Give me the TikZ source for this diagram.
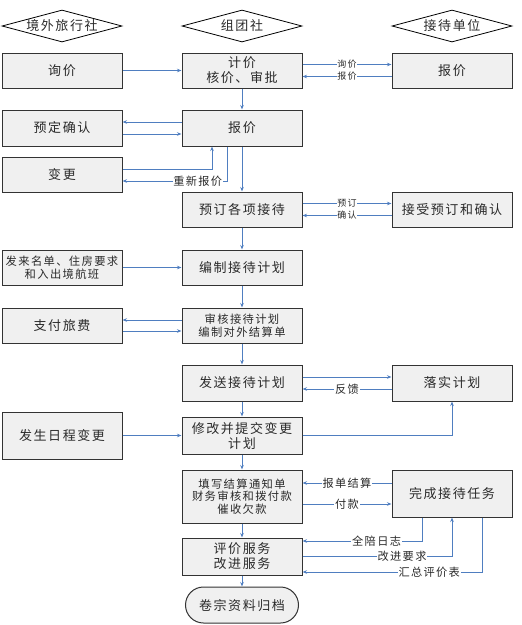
\documentclass[tikz,border=0pt]{standalone}
\usepackage{fontspec}
\newfontfamily\cjk[LetterSpace=12]{Noto Sans CJK SC}
\usetikzlibrary{arrows.meta,shapes.geometric}
\definecolor{boxfill}{HTML}{F0F0F0}
\definecolor{linkblue}{HTML}{4F7EC0}
\definecolor{txt}{HTML}{2A2A2A}
\begin{document}
\begin{tikzpicture}[x=1pt,y=-1pt,
 box/.style={draw=black!80, line width=1pt, fill=boxfill, minimum width=120pt, inner sep=0pt, align=center, text=txt, font=\cjk\fontsize{13}{15}\selectfont},
 small/.style={font=\cjk\fontsize{11.3}{12.8}\selectfont},
 role/.style={diamond, draw=black, line width=0.8pt, fill=white, minimum width=120pt, minimum height=32pt, aspect=3.75, inner sep=0pt, text=txt, font=\cjk\fontsize{13}{15}\selectfont},
 arr/.style={draw=linkblue, line width=0.8pt, -{Stealth[length=4.5pt,width=3.5pt]}},
 lab/.style={fill=white, inner sep=0.8pt, text=txt, font=\cjk\fontsize{11.2}{12}\selectfont},
 slab/.style={lab, font=\cjk\fontsize{9}{10}\selectfont}]
\useasboundingbox (0,0) rectangle (522,625);

\node[role] (r1) at (62,26) {境外旅行社};
\node[role] (r2) at (242,26) {组团社};
\node[role] (r3) at (452,26) {接待单位};

\node[box,minimum height=35pt] (xunjia) at (62,70.5) {询价};
\node[box,minimum height=35pt] (jijia) at (242,70.5) {计价\\核价、审批};
\node[box,minimum height=35pt] (bj2) at (452,70.5) {报价};
\node[box,minimum height=36pt] (yuding) at (62,128) {预定确认};
\node[box,minimum height=36pt] (baojia) at (242,128) {报价};
\node[box,minimum height=35pt] (biangeng) at (62,174.5) {变更};
\node[box,minimum height=35pt] (yuding2) at (242,209.5) {预订各项接待};
\node[box,minimum height=35pt] (jieshou) at (452,209.5) {接受预订和确认};
\node[box,small,minimum height=35pt] (falai) at (62,267.5) {发来名单、住房要求\\和入出境航班};
\node[box,minimum height=35pt] (bianzhi) at (242,267.5) {编制接待计划};
\node[box,minimum height=35pt] (zhifu) at (62,325.5) {支付旅费};
\node[box,small,minimum height=35pt] (shenhe) at (242,325.5) {审核接待计划\\编制对外结算单};
\node[box,minimum height=36pt] (fasong) at (242,383) {发送接待计划};
\node[box,minimum height=36pt] (luoshi) at (452,383) {落实计划};
\node[box,minimum height=47pt] (fasheng) at (62,435.5) {发生日程变更};
\node[box,minimum height=37pt] (xiugai) at (242,435.5) {修改并提交变更\\计划};
\node[box,small,minimum height=53pt] (tianxie) at (242,496.5) {填写结算通知单\\财务审核和拨付款\\催收欠款};
\node[box,minimum height=47pt] (wancheng) at (452,493.5) {完成接待任务};
\node[box,minimum height=37pt] (pingjia) at (242,556.5) {评价服务\\改进服务};
\node[box,rounded corners=18pt,minimum width=113pt,minimum height=36pt] (juanzong) at (242,605) {卷宗资料归档};

\draw[arr] (xunjia) -- (jijia);
\draw[arr] ([yshift=6pt]jijia.east) -- node[slab]{询价} ([yshift=6pt]bj2.west);
\draw[arr] ([yshift=-6pt]bj2.west) -- node[slab]{报价} ([yshift=-6pt]jijia.east);
\draw[arr] (jijia) -- (baojia);
\draw[arr] ([yshift=6pt]baojia.west) -- ([yshift=6pt]yuding.east);
\draw[arr] ([yshift=-6pt]yuding.east) -- ([yshift=-6pt]baojia.west);
\draw[arr] ([yshift=5.5pt]biangeng.east) -| ([xshift=-30pt]baojia.south);
\draw[arr] ([xshift=-15pt]baojia.south) |- node[lab,pos=0.64]{重新报价} ([yshift=-6.5pt]biangeng.east);
\draw[arr] (baojia) -- (yuding2);
\draw[arr] ([yshift=6pt]yuding2.east) -- node[slab]{预订} ([yshift=6pt]jieshou.west);
\draw[arr] ([yshift=-6pt]jieshou.west) -- node[slab]{确认} ([yshift=-6pt]yuding2.east);
\draw[arr] (yuding2) -- (bianzhi);
\draw[arr] (falai) -- (bianzhi);
\draw[arr] (bianzhi) -- (shenhe);
\draw[arr] ([yshift=5.5pt]shenhe.west) -- ([yshift=5.5pt]zhifu.east);
\draw[arr] ([yshift=-5.5pt]zhifu.east) -- ([yshift=-5.5pt]shenhe.west);
\draw[arr] (shenhe) -- (fasong);
\draw[arr] ([yshift=6pt]fasong.east) -- ([yshift=6pt]luoshi.west);
\draw[arr] ([yshift=-6pt]luoshi.west) -- node[lab]{反馈} ([yshift=-6pt]fasong.east);
\draw[arr] (fasong) -- (xiugai);
\draw[arr] (fasheng) -- (xiugai);
\draw[arr] (xiugai.east) -| (luoshi.south);
\draw[arr] (xiugai) -- (tianxie);
\coordinate (w1) at ([yshift=10.5pt]wancheng.west);
\coordinate (w2) at ([yshift=-10.5pt]wancheng.west);
\draw[arr] (w1) -- node[lab]{报单结算} (w1 -| tianxie.east);
\draw[arr] (w2 -| tianxie.east) -- node[lab]{付款} (w2);
\draw[arr] (tianxie) -- (pingjia);
\draw[arr] ([xshift=-30pt]wancheng.south) |- node[lab,pos=0.69]{全陪日志} ([yshift=15.5pt]pingjia.east);
\draw[arr] (pingjia.east) -| node[lab,pos=0.333]{改进要求} (wancheng.south);
\draw[arr] ([xshift=30pt]wancheng.south) |- node[lab,pos=0.647]{汇总评价表} ([yshift=-15.5pt]pingjia.east);
\draw[arr] (pingjia) -- (juanzong);
\end{tikzpicture}
\end{document}
